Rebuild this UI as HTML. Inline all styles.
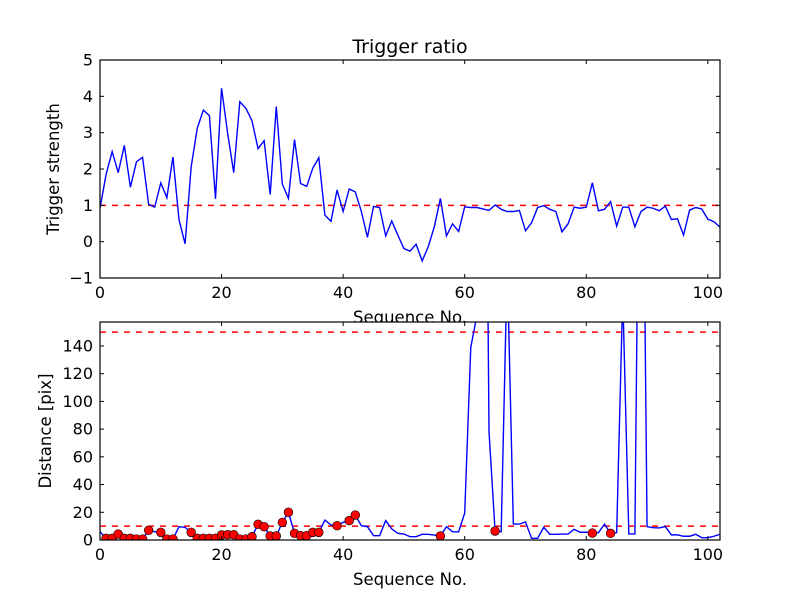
<!DOCTYPE html>
<html><head><meta charset="utf-8"><style>
html,body{margin:0;padding:0;background:#fff;}
svg{display:block;font-family:"DejaVu Sans","Liberation Sans",sans-serif;}
</style></head><body>
<svg id="chart" width="800" height="600" xmlns="http://www.w3.org/2000/svg">
<rect width="800" height="600" fill="#fff"/>
<text x="410" y="53" font-size="19" text-anchor="middle">Trigger ratio</text>
<g id="top"></g>
<g id="bot"></g>
</svg>
<script>
const seq = Array.from({length:103},(_, i)=>i);
const triggerValues = [0.92,1.85,2.48,1.9,2.65,1.5,2.2,2.32,1.03,0.95,1.62,1.21,2.33,0.6,-0.06,2.06,3.12,3.62,3.47,1.18,4.22,2.98,1.9,3.85,3.67,3.33,2.56,2.78,1.3,3.72,1.58,1.19,2.81,1.6,1.52,2.02,2.31,0.73,0.56,1.42,0.83,1.45,1.37,0.83,0.12,0.97,0.94,0.16,0.57,0.18,-0.19,-0.26,-0.07,-0.53,-0.14,0.41,1.19,0.16,0.49,0.28,0.96,0.94,0.94,0.9,0.86,1.01,0.89,0.83,0.83,0.86,0.3,0.52,0.94,0.99,0.89,0.83,0.27,0.49,0.95,0.92,0.95,1.62,0.85,0.89,1.1,0.43,0.95,0.95,0.41,0.83,0.95,0.92,0.85,0.98,0.61,0.63,0.18,0.87,0.94,0.9,0.62,0.55,0.4];
const distanceValues = [6,1.2,1.2,4.3,1.2,1.2,0.7,0.7,7,6,5.5,0.7,0.7,9.6,9.1,5.5,1.2,1.2,1.2,1.2,3.6,3.8,3.8,0.7,0.7,2.4,11.3,9.6,2.9,2.9,12.7,20,4.8,3.1,3.1,5.5,5.5,14.4,10.8,10.3,12.7,14,18,10.3,9.6,3.1,3.1,14,8,4.8,4.3,2.4,2.4,4.1,4.1,3.6,2.9,9.6,5.9,5.9,19.5,139,162,590,78,6.5,6,200,11.5,11.5,13,1.2,1.2,9.2,4.1,4.1,4.3,4.3,7.7,5.6,5.6,5,5.3,11.5,4.8,5.3,177,4.4,4.4,450,9.6,8.9,8.7,9.7,3.7,3.7,2.7,2.7,4.1,1.7,1.7,2.7,4.1];
const triggerThreshold = 1;
const distanceThresholds = [10,150];
const xTicks = [0,20,40,60,80,100];
const topYTicks = [-1,0,1,2,3,4,5];
const botYTicks = [0,20,40,60,80,100,120,140];

const NS="http://www.w3.org/2000/svg";
function mk(parent,tag,attrs){const e=document.createElementNS(NS,tag);for(const k in attrs)e.setAttribute(k,attrs[k]);parent.appendChild(e);return e;}
const L=100,R=720;
const xS=v=>L+(v-0)/(102-0)*(R-L);

function panel(g,top,bottom,ymin,ymax,yTicks,values,hlines,ylabel,prefix,markers){
  const yS=v=>bottom-(v-ymin)/(ymax-ymin)*(bottom-top);
  const bg=mk(g,'rect',{x:L,y:top,width:R-L,height:bottom-top,fill:'#fff'});
  
  
  const cid='clip-'+prefix;
  const cp=mk(g,'clipPath',{id:cid});mk(cp,'rect',{x:L,y:top,width:R-L,height:bottom-top});
  for(const h of hlines){
    const ln=mk(g,'line',{x1:L,x2:R,y1:yS(h),y2:yS(h),stroke:'#ff0000','stroke-width':1.5,'stroke-dasharray':'6,6','clip-path':`url(#${cid})`});
    
    
  }
  const pts=values.map((v,i)=>xS(seq[i]).toFixed(2)+','+yS(v).toFixed(2)).join(' ');
  const pl=mk(g,'polyline',{points:pts,fill:'none',stroke:'#0000ff','stroke-width':1.4,'clip-path':`url(#${cid})`});
  
  
  if(markers){
    values.forEach((v,i)=>{
      if(markers[i]>triggerThreshold){
        const c=mk(g,'circle',{cx:xS(seq[i]),cy:yS(v),r:4.4,fill:'#ff0000',stroke:'#000','stroke-width':0.6,'clip-path':`url(#${cid})`});
        
        
      }
    });
  }
  const fr=mk(g,'rect',{x:L,y:top,width:R-L,height:bottom-top,fill:'none',stroke:'#000','stroke-width':1.2});
  
  
  for(const t of xTicks){
    const x=xS(t);
    mk(g,'line',{x1:x,x2:x,y1:bottom,y2:bottom-4,stroke:'#000'});
    mk(g,'line',{x1:x,x2:x,y1:top,y2:top+4,stroke:'#000'});
    const tx=mk(g,'text',{x:x,y:bottom+20,'font-size':16,'text-anchor':'middle'});tx.textContent=t;
    
    
  }
  for(const t of yTicks){
    const y=yS(t);
    mk(g,'line',{x1:L,x2:L+4,y1:y,y2:y,stroke:'#000'});
    mk(g,'line',{x1:R,x2:R-4,y1:y,y2:y,stroke:'#000'});
    const tx=mk(g,'text',{x:L-7,y:y+5.5,'font-size':16,'text-anchor':'end'});tx.textContent=t<0?'\u2212'+(-t):t;
    
    
  }
  const yl=mk(g,'text',{x:0,y:0,'font-size':16.5,'text-anchor':'middle',transform:`translate(${prefix==='top'?59:51},${(top+bottom)/2}) rotate(-90)`});
  yl.textContent=ylabel;
  
  
  const xl=mk(g,'text',{x:(L+R)/2,y:bottom+45,'font-size':16.5,'text-anchor':'middle'});
  xl.textContent='Sequence No.';
  
  
}
const gt=document.getElementById('top'), gb=document.getElementById('bot');
panel(gt,60,278,-1,5,topYTicks,triggerValues,[triggerThreshold],'Trigger strength','top',null);
panel(gb,322,540,0,157.3,botYTicks,distanceValues,distanceThresholds,'Distance [pix]','bottom',triggerValues);
</script>
</body></html>
